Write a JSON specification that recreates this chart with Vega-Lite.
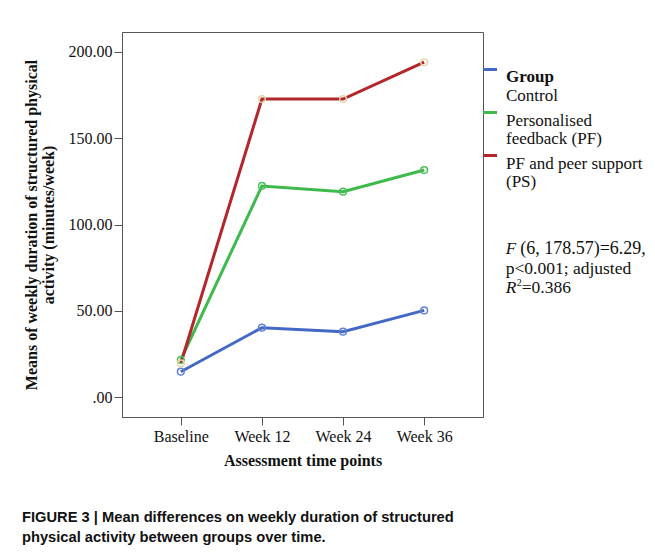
{
  "$schema": "https://vega.github.io/schema/vega-lite/v6.json",
  "width": 361,
  "height": 385,
  "autosize": {"type": "none"},
  "padding": {"left": 122, "top": 32, "right": 172, "bottom": 141},
  "background": "white",
  "config": {
    "view": {"stroke": "#555555", "strokeWidth": 1},
    "font": "Liberation Serif",
    "axis": {
      "labelFont": "Liberation Serif", "labelFontSize": 16, "labelColor": "#111111",
      "titleFont": "Liberation Serif", "titleFontSize": 16, "titleFontWeight": "bold", "titleColor": "#111111",
      "domainColor": "#555555", "tickColor": "#555555", "tickSize": 8, "grid": false
    },
    "style": {"guide-label": {"lineHeight": 18}}
  },
  "title": {
    "text": ["FIGURE 3 | Mean differences on weekly duration of structured", "physical activity between groups over time."],
    "orient": "bottom", "anchor": "start", "frame": "group", "dx": -100, "offset": 42,
    "font": "Liberation Sans", "fontSize": 14.7, "fontWeight": "bold", "lineHeight": 20, "color": "#111111"
  },
  "datasets": {
    "means": [
      {"time": "Baseline", "group": "Control", "value": 14.8},
      {"time": "Week 12", "group": "Control", "value": 40.3},
      {"time": "Week 24", "group": "Control", "value": 38.0},
      {"time": "Week 36", "group": "Control", "value": 50.3},
      {"time": "Baseline", "group": "Personalised feedback (PF)", "value": 21.6},
      {"time": "Week 12", "group": "Personalised feedback (PF)", "value": 122.3},
      {"time": "Week 24", "group": "Personalised feedback (PF)", "value": 119.0},
      {"time": "Week 36", "group": "Personalised feedback (PF)", "value": 131.5},
      {"time": "Baseline", "group": "PF and peer support (PS)", "value": 19.7},
      {"time": "Week 12", "group": "PF and peer support (PS)", "value": 172.6},
      {"time": "Week 24", "group": "PF and peer support (PS)", "value": 172.6},
      {"time": "Week 36", "group": "PF and peer support (PS)", "value": 193.9}
    ],
    "note": [
      {"part": "F", "line": 1},
      {"part": "(6, 178.57)=6.29,", "line": 1},
      {"part": "p<0.001; adjusted", "line": 2},
      {"part": "R", "line": 3},
      {"part": "2", "line": 3},
      {"part": "=0.386", "line": 3}
    ]
  },
  "layer": [
    {
      "data": {"name": "means"},
      "mark": {"type": "line", "strokeWidth": 3},
      "encoding": {
        "x": {
          "field": "time", "type": "ordinal",
          "sort": ["Baseline", "Week 12", "Week 24", "Week 36"],
          "scale": {"type": "point", "padding": 0.725},
          "axis": {"title": "Assessment time points", "labelAngle": 0, "labelPadding": 3, "titlePadding": 8}
        },
        "y": {
          "field": "value", "type": "quantitative",
          "scale": {"domain": [-11.4, 211.4], "nice": false, "zero": false},
          "axis": {
            "title": ["Means of weekly duration of structured physical", "activity (minutes/week)"],
            "values": [0, 50, 100, 150, 200],
            "labelExpr": "datum.value == 0 ? '.00' : format(datum.value, '.2f')",
            "labelPadding": 2, "titlePadding": 12, "titleLineHeight": 17
          }
        },
        "color": {
          "field": "group", "type": "nominal",
          "scale": {"domain": ["Control", "Personalised feedback (PF)", "PF and peer support (PS)"], "range": ["#4468c4", "#3dba4b", "#b3262b"]},
          "legend": {
            "title": "Group",
            "orient": "none", "legendX": 384, "legendY": 37, "padding": 0,
            "titleFont": "Liberation Serif", "titleFontSize": 17, "titleFontWeight": "bold", "titleColor": "#111111", "titlePadding": -25,
            "labelFont": "Liberation Serif", "labelFontSize": 17, "labelColor": "#111111", "labelOffset": 7.5, "labelBaseline": "top", "labelLimit": 300,
            "symbolType": "stroke", "symbolSize": 196, "symbolStrokeWidth": 3, "symbolOffset": -24.5, "rowPadding": 0,
            "labelExpr": "datum.label == 'Control' ? ['', 'Control'] : datum.label == 'Personalised feedback (PF)' ? ['Personalised', 'feedback (PF)'] : ['PF and peer support', '(PS)']"
          }
        }
      }
    },
    {
      "data": {"name": "means"},
      "mark": {"type": "point", "filled": false, "size": 45, "strokeWidth": 1.5, "opacity": 1},
      "encoding": {
        "x": {"field": "time", "type": "ordinal", "sort": ["Baseline", "Week 12", "Week 24", "Week 36"]},
        "y": {"field": "value", "type": "quantitative"},
        "stroke": {
          "field": "group", "type": "nominal",
          "scale": {"domain": ["Control", "Personalised feedback (PF)", "PF and peer support (PS)"], "range": ["#6282d4", "#4cc05a", "#e2d7a4"]},
          "legend": null
        }
      }
    },
    {
      "data": {"name": "note"},
      "transform": [{"filter": "datum.part == 'F'"}],
      "mark": {"type": "text", "align": "left", "baseline": "alphabetic", "fontSize": 17, "fontStyle": "italic", "dx": 81.5, "fill": "#111111"},
      "encoding": {"x": {"datum": "Week 36", "type": "ordinal"}, "y": {"datum": 82.9, "type": "quantitative"}, "text": {"field": "part", "type": "nominal"}}
    },
    {
      "data": {"name": "note"},
      "transform": [{"filter": "datum.part == '(6, 178.57)=6.29,'"}],
      "mark": {"type": "text", "align": "left", "baseline": "alphabetic", "fontSize": 18, "dx": 96, "fill": "#111111"},
      "encoding": {"x": {"datum": "Week 36", "type": "ordinal"}, "y": {"datum": 82.9, "type": "quantitative"}, "text": {"field": "part", "type": "nominal"}}
    },
    {
      "data": {"name": "note"},
      "transform": [{"filter": "datum.line == 2"}],
      "mark": {"type": "text", "align": "left", "baseline": "alphabetic", "fontSize": 17.5, "dx": 81.5, "fill": "#111111"},
      "encoding": {"x": {"datum": "Week 36", "type": "ordinal"}, "y": {"datum": 71.4, "type": "quantitative"}, "text": {"field": "part", "type": "nominal"}}
    },
    {
      "data": {"name": "note"},
      "transform": [{"filter": "datum.part == 'R'"}],
      "mark": {"type": "text", "align": "left", "baseline": "alphabetic", "fontSize": 17.5, "fontStyle": "italic", "dx": 81.5, "fill": "#111111"},
      "encoding": {"x": {"datum": "Week 36", "type": "ordinal"}, "y": {"datum": 60.4, "type": "quantitative"}, "text": {"field": "part", "type": "nominal"}}
    },
    {
      "data": {"name": "note"},
      "transform": [{"filter": "datum.part == '2'"}],
      "mark": {"type": "text", "align": "left", "baseline": "alphabetic", "fontSize": 10, "dx": 92.5, "dy": -7, "fill": "#111111"},
      "encoding": {"x": {"datum": "Week 36", "type": "ordinal"}, "y": {"datum": 60.4, "type": "quantitative"}, "text": {"field": "part", "type": "nominal"}}
    },
    {
      "data": {"name": "note"},
      "transform": [{"filter": "datum.part == '=0.386'"}],
      "mark": {"type": "text", "align": "left", "baseline": "alphabetic", "fontSize": 17.5, "dx": 97.5, "fill": "#111111"},
      "encoding": {"x": {"datum": "Week 36", "type": "ordinal"}, "y": {"datum": 60.4, "type": "quantitative"}, "text": {"field": "part", "type": "nominal"}}
    }
  ]
}
